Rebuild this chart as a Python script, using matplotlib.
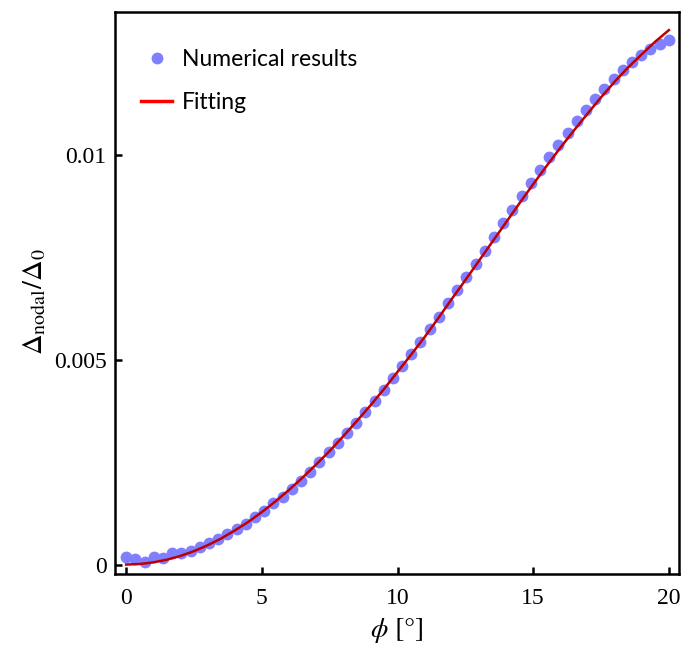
import numpy as np
import matplotlib
matplotlib.use("Agg")
import matplotlib.pyplot as plt
from matplotlib.lines import Line2D

plt.rcParams['mathtext.fontset'] = 'stix'

# numerical results: 60 points evenly spaced over 0..20 deg
phi = np.linspace(0, 20, 60)
delta = [0.00018, 0.00014, 0.00006, 0.00019, 0.00016, 0.00027, 0.00027, 0.00033, 0.00042, 0.00052,
         0.00062, 0.00075, 0.00086, 0.00098, 0.00115, 0.00131, 0.00149, 0.00165, 0.00185, 0.00205,
         0.00226, 0.00249, 0.00274, 0.00297, 0.00321, 0.00346, 0.00371, 0.00399, 0.00426, 0.00456,
         0.00484, 0.00513, 0.00543, 0.00574, 0.00605, 0.00639, 0.00669, 0.00702, 0.00734, 0.00766,
         0.00800, 0.00834, 0.00865, 0.00899, 0.00930, 0.00962, 0.00995, 0.01024, 0.01054, 0.01083,
         0.01110, 0.01136, 0.01161, 0.01184, 0.01206, 0.01226, 0.01243, 0.01258, 0.01270, 0.01281]

# fitted curve, read every half degree
phi_fit = np.arange(0, 20.5, 0.5)
delta_fit = [0.0, 0.000013, 0.000053, 0.000118, 0.00021, 0.000327, 0.00047, 0.000635, 0.00083, 0.00104,
             0.00128, 0.00154, 0.00182, 0.00212, 0.00244, 0.00277, 0.00313, 0.00350, 0.00388, 0.00428,
             0.00470, 0.00512, 0.00555, 0.00601, 0.00648, 0.00694, 0.00741, 0.00788, 0.00835, 0.00882,
             0.00928, 0.00973, 0.01017, 0.01059, 0.01100, 0.01140, 0.01178, 0.01213, 0.01245, 0.01276,
             0.01304]

fig = plt.figure(figsize=(6.83, 6.45), dpi=100)
ax = fig.add_axes([0.168, 0.110, 0.826, 0.871])

ax.plot(phi, delta, 'o', color='#7f7fff', markersize=8.5, markeredgewidth=0, zorder=2)
ax.plot(phi_fit, delta_fit, '-', color='#c00000', linewidth=1.8, zorder=3)

ax.set_xlim(-0.42, 20.37)
ax.set_ylim(-0.000232, 0.013476)

ax.set_xticks([0, 5, 10, 15, 20])
ax.set_xticklabels(['0', '5', '10', '15', '20'])
ax.set_yticks([0, 0.005, 0.01])
ax.set_yticklabels(['0', '0.005', '0.01'])
ax.tick_params(direction='in', length=5, width=1.8, top=False, right=False, labelsize=17, pad=6)
ax.tick_params(axis='x', pad=10)
for lab in ax.get_xticklabels() + ax.get_yticklabels():
    lab.set_fontfamily('Liberation Serif')
for s in ax.spines.values():
    s.set_linewidth(1.8)

ax.set_xlabel(r'$\phi$ [°]', fontsize=20, family='STIXGeneral', labelpad=5)
ax.set_ylabel(r'$\Delta_{\mathrm{nodal}}/\Delta_0$', fontsize=20.5, labelpad=8)
ax.yaxis.set_label_coords(-0.118, 0.485)

handles = [Line2D([], [], marker='o', ls='none', color='#7f7fff', markersize=8.5, markeredgewidth=0),
           Line2D([], [], color='red', linewidth=2.5)]
ax.legend(handles, ['Numerical results', 'Fitting'], loc='upper left', frameon=False,
          prop={'family': 'Lato', 'size': 16.5}, bbox_to_anchor=(0.047, 0.935),
          borderpad=0, borderaxespad=0,
          handlelength=1.35, handletextpad=0.44, labelspacing=0.95)

fig.savefig('out.png', dpi=100)
